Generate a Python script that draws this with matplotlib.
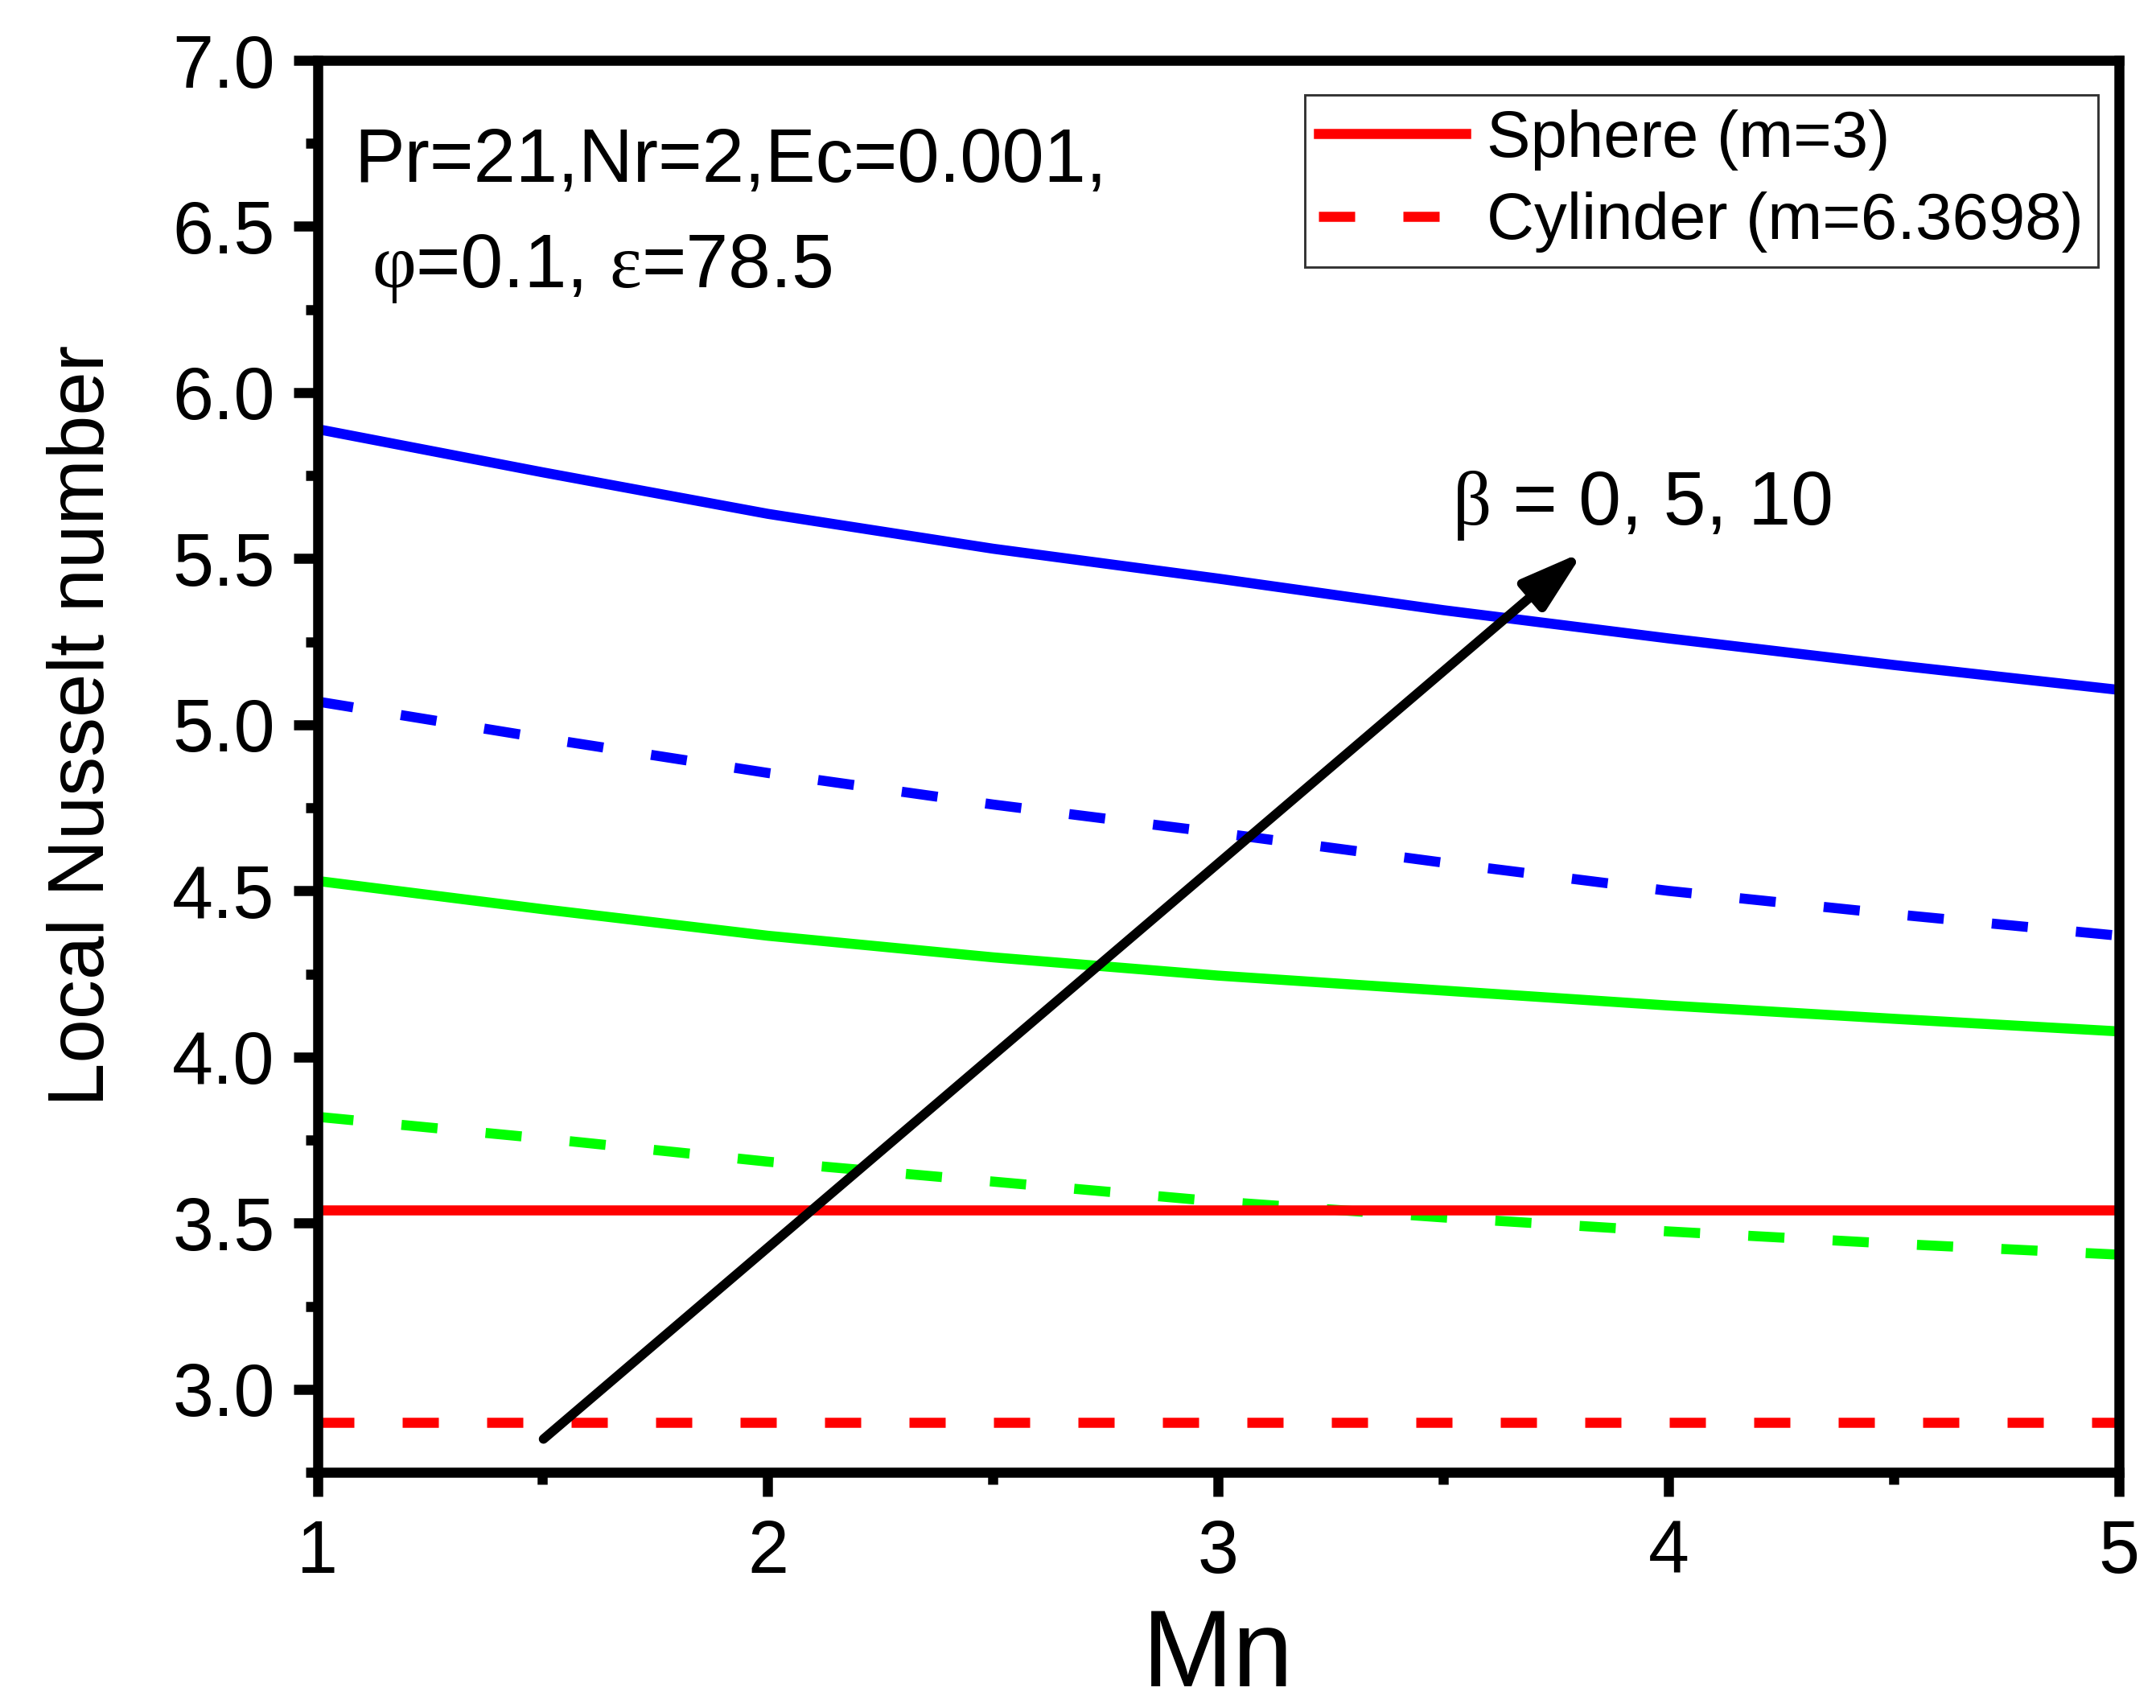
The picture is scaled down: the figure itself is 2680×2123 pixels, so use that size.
import matplotlib
matplotlib.use("Agg")
import matplotlib.pyplot as plt
from matplotlib.ticker import MultipleLocator, FormatStrFormatter

plt.rcParams['font.family'] = ['Liberation Sans', 'DejaVu Sans']

# ---- data ----
mn = [1.0, 1.5, 2.0, 2.5, 3.0, 3.5, 4.0, 4.5, 5.0]
sphere_b10 = [5.89, 5.76, 5.635, 5.53, 5.44, 5.345, 5.26, 5.18, 5.105]
cyl_b10 = [5.07, 4.96, 4.855, 4.76, 4.675, 4.585, 4.50, 4.43, 4.365]
sphere_b5 = [4.53, 4.445, 4.365, 4.30, 4.245, 4.20, 4.155, 4.115, 4.077]
cyl_b5 = [3.82, 3.755, 3.685, 3.625, 3.565, 3.517, 3.475, 3.438, 3.405]
sphere_b0 = [3.54] * 9
cyl_b0 = [2.90] * 9
legend_labels = ["Sphere (m=3)", "Cylinder (m=6.3698)"]

W, H = 2680, 2123
fig = plt.figure(figsize=(W / 300, H / 300), dpi=300)
ax = fig.add_axes([394.5 / W, 1 - 1830 / H, (2634 - 394.5) / W, (1830 - 75) / H])

lw = 3.0
dash = (3.6, 4.8)
ax.plot(mn, sphere_b10, color='#0000FF', lw=lw)
ax.plot(mn, cyl_b10, color='#0000FF', lw=lw, dashes=dash)
ax.plot(mn, sphere_b5, color='#00FF00', lw=lw)
ax.plot(mn, cyl_b5, color='#00FF00', lw=lw, dashes=dash)
ax.plot(mn, sphere_b0, color='#FF0000', lw=lw, label=legend_labels[0])
ax.plot(mn, cyl_b0, color='#FF0000', lw=lw, dashes=dash, label=legend_labels[1])

ax.set_xlim(1, 5)
ax.set_ylim(2.75, 7.0)
ax.xaxis.set_major_locator(MultipleLocator(1))
ax.xaxis.set_minor_locator(MultipleLocator(0.5))
ax.yaxis.set_major_locator(MultipleLocator(0.5))
ax.yaxis.set_minor_locator(MultipleLocator(0.25))
ax.yaxis.set_major_formatter(FormatStrFormatter('%.1f'))

for s in ax.spines.values():
    s.set_linewidth(3.0)
ax.tick_params(which='major', direction='out', length=7.2, width=3.0, labelsize=22)
ax.tick_params(axis='y', which='major', pad=5.5)
ax.tick_params(axis='x', which='major', pad=6.7)
ax.tick_params(which='minor', direction='out', length=3.7, width=3.0)
ax.tick_params(top=False, right=False, which='both')

ax.set_xlabel("Mn", fontsize=32.5, va='baseline')
ax.xaxis.set_label_coords(0.5, (1830 - 2096) / 1755)
ax.set_ylabel("Local Nusselt number", fontsize=23.5)
ax.yaxis.set_label_coords(-0.110, 0.5288)

leg = ax.legend(loc='upper right', bbox_to_anchor=(0.9882, 0.9755), borderaxespad=0,
                fontsize=19.6, frameon=True, fancybox=False, edgecolor='black',
                handlelength=2.23, handletextpad=0.32, borderpad=0.22, labelspacing=0.32)
leg.get_frame().set_linewidth(0.7)

# parameter annotation
ax.text(0.0205, 0.914, "Pr=21,Nr=2,Ec=0.001,", transform=ax.transAxes,
        fontsize=22.5, va='baseline', ha='left')


def seq_text(x, y, pieces, size):
    prev = None
    for txt, fam in pieces:
        fam_list = [fam, 'DejaVu Sans']
        if prev is None:
            prev = ax.text(x, y, txt, transform=ax.transAxes, fontsize=size,
                           family=fam_list, va='baseline', ha='left')
        else:
            prev = ax.annotate(txt, xy=(1, 0), xycoords=prev, fontsize=size,
                               family=fam_list, va='bottom', ha='left')


seq_text(0.0304, 0.8393, [("φ", 'Liberation Serif'), ("=0.1, ", 'Liberation Sans'),
                          ("ε", 'Liberation Serif'), ("=78.5", 'Liberation Sans')], 22.8)
seq_text(0.630, 0.6712, [("β", 'Liberation Serif'), (" = 0, 5, 10", 'Liberation Sans')], 22.8)

ax.annotate('', xy=(3.811, 5.521), xytext=(1.502, 2.85),
            arrowprops=dict(arrowstyle='-|>,head_length=0.77,head_width=0.235',
                            color='black', lw=2.8, mutation_scale=20,
                            shrinkA=0, shrinkB=0))

fig.savefig("out.png", dpi=300)
